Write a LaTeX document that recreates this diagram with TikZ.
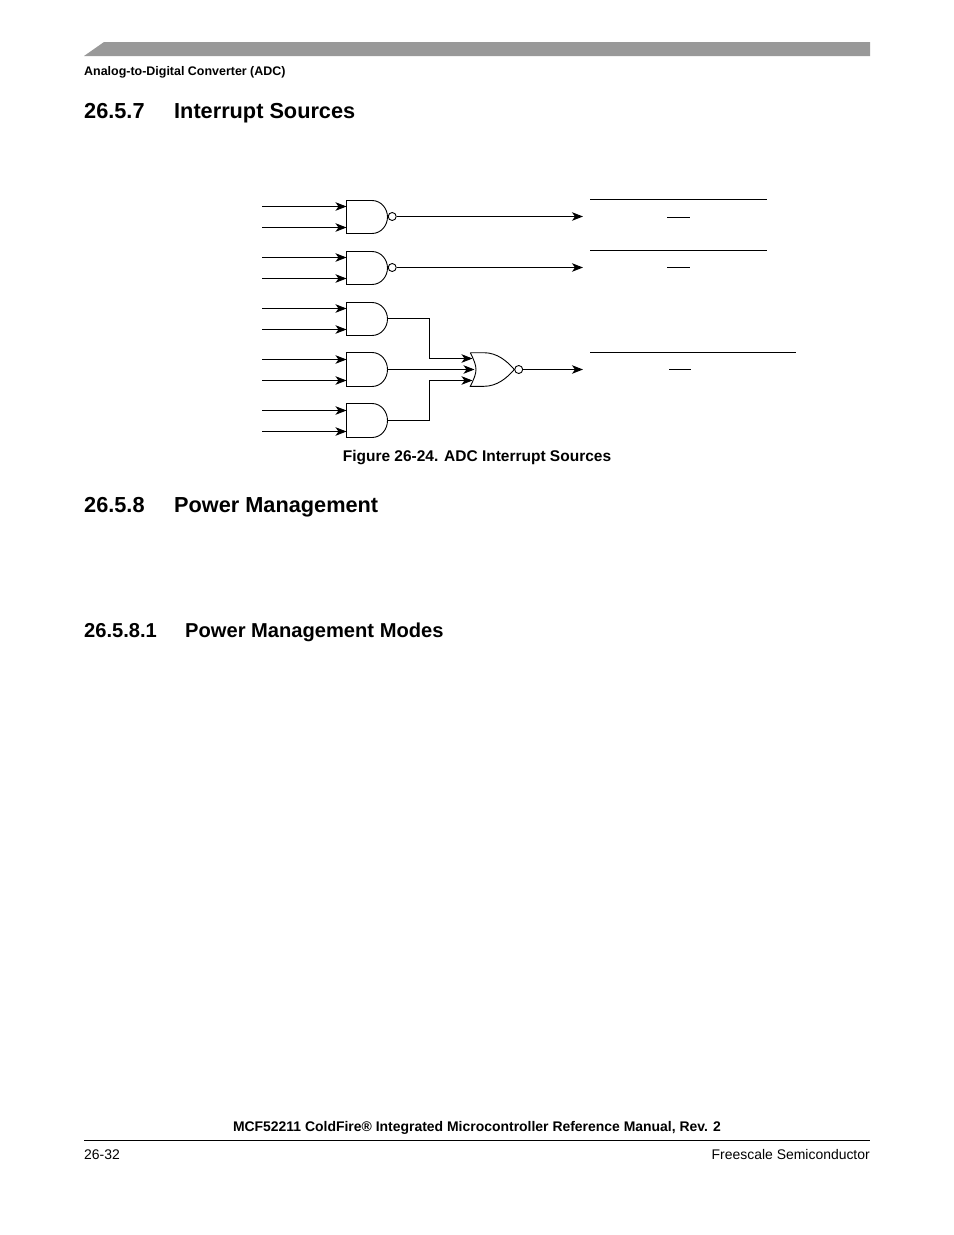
\documentclass[tikz,border=0pt]{standalone}
\usepackage{fontspec}
\setmainfont{Liberation Sans}
\usetikzlibrary{arrows.meta}
\tikzset{
    wire/.style={line width=1bp},
    sig/.style={wire,-{Stealth[length=11bp,width=8.5bp,inset=3bp]}},
    gateline/.style={line width=0.9bp},
    heading/.style={anchor=base west,font=\bfseries\fontsize{21.8}{24}\selectfont,inner sep=0pt},
    subheading/.style={anchor=base west,font=\bfseries\fontsize{20.2}{24}\selectfont,inner sep=0pt},
    small/.style={inner sep=0pt,font=\fontsize{12.5}{15}\selectfont},
    smallbold/.style={inner sep=0pt,font=\bfseries\fontsize{12.5}{15}\selectfont},
}
% and gate #1, top left corner at (346.5,#2), height #3, with its two inputs and its output
\newcommand{\andgate}[3]{
    \draw[gateline] (372,#2) -- (346.5,#2) -- (346.5,#2+#3) -- (372,#2+#3)
        .. controls (381,#2+#3) and (387.5,#2+#3-8) .. (387.5,#2+#3/2)
        .. controls (387.5,#2+8) and (381,#2) .. (372,#2);
    \coordinate (#1a0) at (262,#2+#3-27);
    \coordinate (#1a1) at (346.5,#2+#3-27);
    \coordinate (#1b0) at (262,#2+#3-6);
    \coordinate (#1b1) at (346.5,#2+#3-6);
    \coordinate (#1out) at (387.5,#2+#3-17);
    \draw[sig] (#1a0) -- (#1a1);
    \draw[sig] (#1b0) -- (#1b1);
}
\begin{document}
\begin{tikzpicture}[x=1bp,y=-1bp]
    \useasboundingbox[fill=white] (0,0) rectangle (954,1235);
    % page header
    \fill[black!40] (84,56) -- (104,42) -- (870,42) -- (870,56) -- cycle;
    \node[smallbold,anchor=base west] (chapter) at (84,75) {Analog-to-Digital Converter (ADC)};
    \node[heading] (num7) at (84,118) {26.5.7};
    \node[heading] (title7) at (174,118) {Interrupt Sources};

    % gates
    \andgate{g1}{200.5}{33}
    \andgate{g2}{251.5}{33}
    \andgate{g3}{302.5}{33}
    \andgate{g4}{352.5}{34}
    \andgate{g5}{403.5}{34}
    \node[draw,circle,gateline,minimum size=8bp,inner sep=0pt] (b1) at (392.2,216.5) {};
    \node[draw,circle,gateline,minimum size=8bp,inner sep=0pt] (b2) at (392.2,267.5) {};
    \draw[gateline] (470.3,352.7) .. controls (474,360) and (476,365) .. (476,369.5)
        .. controls (476,374) and (474,379) .. (470.3,386.3)
        .. controls (476,386.3) and (480,386.3) .. (484,386.3)
        .. controls (497,386.3) and (507,378) .. (514.3,369.5)
        .. controls (507,361) and (497,352.7) .. (484,352.7) -- (470.3,352.7);
    \node[draw,circle,gateline,minimum size=8bp,inner sep=0pt] (b3) at (518.7,369.5) {};

    % outputs
    \coordinate (o1) at (583,216.5);
    \coordinate (o2) at (583,267.5);
    \coordinate (o3) at (583,369.5);
    \coordinate (n1) at (472.5,358.5);
    \coordinate (n2) at (474.5,369.5);
    \coordinate (n3) at (472.5,380.5);
    \draw[sig] (b1.east) -- (o1);
    \draw[sig] (b2.east) -- (o2);
    \draw[sig] (b3.east) -- (o3);
    \draw[sig] (g3out) -| (429.5,340) |- (n1);
    \draw[sig] (g4out) -- (n2);
    \draw[sig] (g5out) -| (429.5,400) |- (n3);

    % bars over the outputs
    \draw[wire] (590,199.5) -- (767,199.5);
    \draw[wire] (667,217.5) -- (690,217.5);
    \draw[wire] (590,250.5) -- (767,250.5);
    \draw[wire] (667,267.5) -- (690,267.5);
    \draw[wire] (590,352.5) -- (796,352.5);
    \draw[wire] (669,369.5) -- (691,369.5);

    \node[inner sep=0pt,anchor=base,font=\bfseries\fontsize{15.55}{18}\selectfont] (caption) at (477,461) {Figure 26-24. ADC Interrupt Sources};
    \node[heading] (num8) at (84,512) {26.5.8};
    \node[heading] (title8) at (174,512) {Power Management};
    \node[subheading] (num81) at (84,637) {26.5.8.1};
    \node[subheading] (title81) at (185,637) {Power Management Modes};

    % page footer
    \node[smallbold,anchor=base,font=\bfseries\fontsize{14}{16}\selectfont] (manual) at (477,1131) {MCF52211 ColdFire® Integrated Microcontroller Reference Manual, Rev. 2};
    \draw[wire] (84,1140.5) -- (870,1140.5);
    \node[small,anchor=base west,font=\fontsize{14}{16}\selectfont] (page) at (84,1159) {26-32};
    \node[small,anchor=base east,font=\fontsize{14}{16}\selectfont] (vendor) at (870,1159) {Freescale Semiconductor};
\end{tikzpicture}
\end{document}
